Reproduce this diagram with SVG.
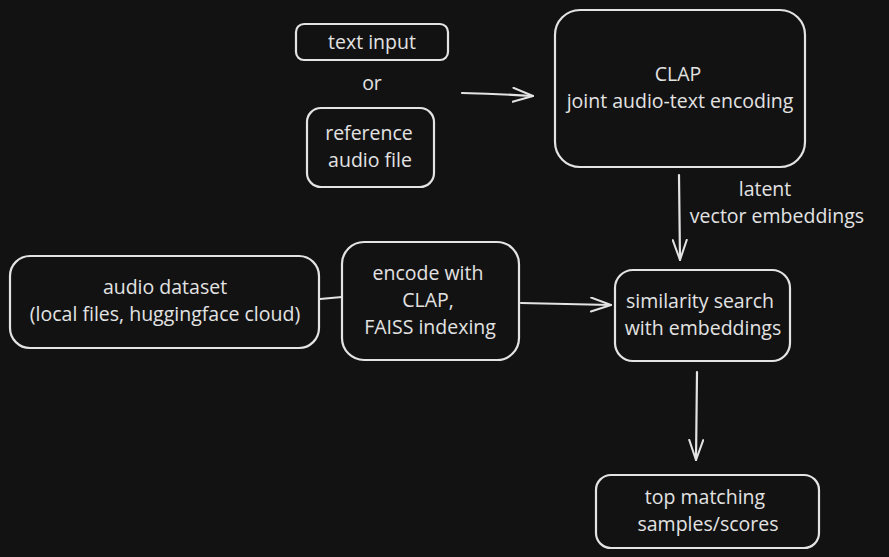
<svg xmlns="http://www.w3.org/2000/svg" width="889" height="557" viewBox="0 0 889 557">
<defs>
<marker id="arr" viewBox="0 0 22 16" refX="21" refY="8" markerWidth="22" markerHeight="16" markerUnits="userSpaceOnUse" orient="auto">
<path d="M1,1 L21,8 L1,15" fill="none" stroke="#e3e3e3" stroke-width="2" stroke-linecap="round" stroke-linejoin="round"/>
</marker>
<style>
.box{fill:none;stroke:#e3e3e3;stroke-width:2.2}
.t{fill:#e3e3e3;font-family:"Open Sans","Noto Sans",sans-serif;font-size:19.5px;text-anchor:middle}
.c{fill:none;stroke:#e3e3e3;stroke-width:2.2;stroke-linecap:round}
</style>
</defs>
<rect width="889" height="557" fill="#121212"/>
<g id="connectors">
<path class="c" d="M462,93 Q500,94 533,96" marker-end="url(#arr)"/>
<path class="c" d="M679,175 L680,260" marker-end="url(#arr)"/>
<path class="c" d="M320,299 L342,297"/>
<path class="c" d="M521,303 L611,305" marker-end="url(#arr)"/>
<path class="c" d="M697,372 L696,460" marker-end="url(#arr)"/>
</g>
<g id="text-input">
<rect class="box" x="296" y="24" width="152" height="36" rx="8"/>
<text class="t" x="372" y="49">text input</text>
</g>
<g id="or-label">
<text class="t" x="372" y="90">or</text>
</g>
<g id="reference-audio">
<rect class="box" x="307" y="108" width="127" height="79" rx="14"/>
<text class="t" x="369" y="140">reference</text>
<text class="t" x="370" y="167">audio file</text>
</g>
<g id="clap">
<rect class="box" x="555" y="10" width="250" height="157" rx="25"/>
<text class="t" x="678" y="81">CLAP</text>
<text class="t" x="680" y="108">joint audio-text encoding</text>
</g>
<g id="latent-label">
<text class="t" x="765" y="196">latent</text>
<text class="t" x="777" y="223">vector embeddings</text>
</g>
<g id="audio-dataset">
<rect class="box" x="10" y="256" width="309" height="92" rx="20"/>
<text class="t" x="165" y="294">audio dataset</text>
<text class="t" x="165" y="321">(local files, huggingface cloud)</text>
</g>
<g id="encode">
<rect class="box" x="342" y="242" width="177" height="118" rx="22"/>
<text class="t" x="428" y="280">encode with</text>
<text class="t" x="428" y="307">CLAP,</text>
<text class="t" x="430" y="334">FAISS indexing</text>
</g>
<g id="similarity">
<rect class="box" x="615" y="270" width="175" height="91" rx="18"/>
<text class="t" x="700" y="308">similarity search</text>
<text class="t" x="703" y="335">with embeddings</text>
</g>
<g id="top-matching">
<rect class="box" x="596" y="475" width="223" height="73" rx="15"/>
<text class="t" x="705" y="504">top matching</text>
<text class="t" x="708" y="531">samples/scores</text>
</g>
</svg>
